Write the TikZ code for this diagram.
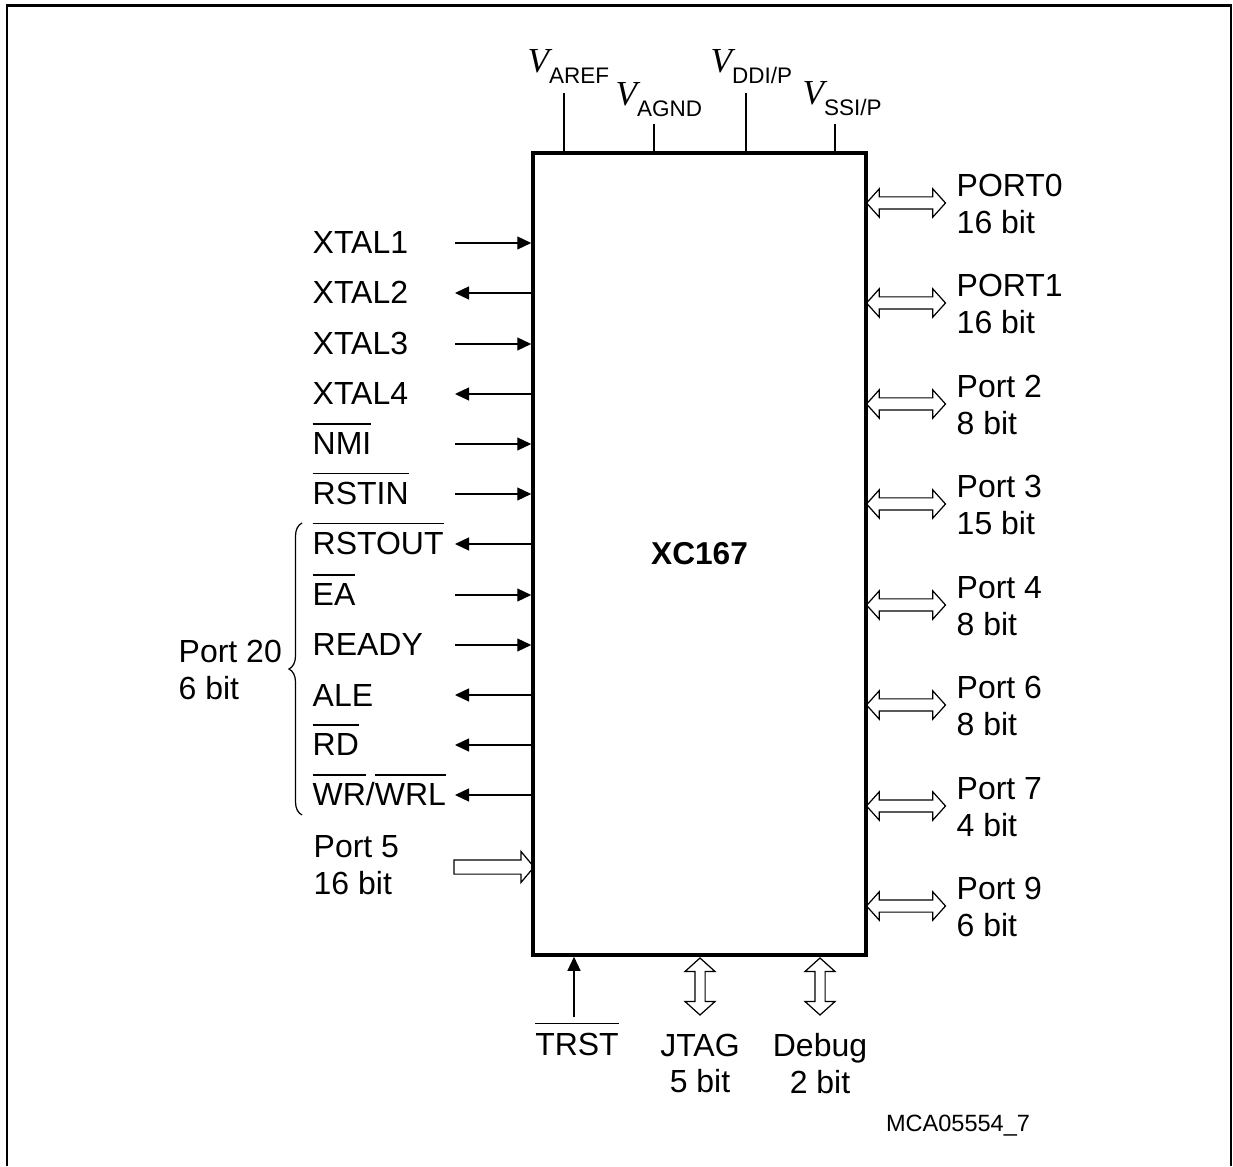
\documentclass[tikz,border=0pt]{standalone}
\usepackage{fontspec}
\setmainfont{Liberation Sans}
\newfontfamily\vfont{Liberation Serif}
\usepackage{tikz}
\usetikzlibrary{arrows.meta,shapes.arrows,decorations.pathreplacing}

\newcommand{\ovl}[1]{\leavevmode\vbox{\hrule height 0.35pt \kern 2.4pt \hbox{#1}}}
\newcommand{\supply}[1]{{\vfont\itshape\fontsize{10}{10}\selectfont V}\raisebox{-2.85pt}{\fontsize{6.4}{7}\selectfont #1}}

\tikzset{
  wire/.style={line width=0.35pt},
  wirein/.style={wire,-{Triangle[length=1.4mm,width=1.3mm]}},
  wireout/.style={wire,{Triangle[length=1.4mm,width=1.3mm]}-},
  sig/.style={inner sep=0pt, anchor=base west},
  portlbl/.style={inner sep=0pt, anchor=west, align=left},
  buslbl/.style={inner sep=0pt, anchor=north, align=center},
  bus/.style={draw, line width=0.35pt, double arrow, inner xsep=0pt, inner ysep=0.055cm,
    double arrow head extend=0.08cm, double arrow tip angle=96, minimum height=0.79cm},
}

\begin{document}
\begin{tikzpicture}[font=\fontsize{9.1}{10.4}\selectfont]
    \useasboundingbox (0,0) rectangle (12.33,11.66);
    \draw[line width=0.6pt] (0.07,0) -- (0.07,11.605) -- (12.31,11.605) -- (12.31,0); % frame
    %%%%%%%%%%%%%%%%%%%%%%%%%%%%%%%%%%
    \node[draw, line width=1pt, minimum width=3.33cm, minimum height=8.02cm, inner sep=0pt,
      font=\fontsize{9}{10}\selectfont\bfseries] (chip) at (6.995,6.12) {XC167};
    %%%%%%%%%%%%%%%%%%%%%%%%%%%%%%%%%%
    \node[sig] (aref) at (5.27,10.93) {\supply{AREF}};
    \node[sig] (agnd) at (6.15,10.60) {\supply{AGND}};
    \node[sig] (vddi) at (7.10,10.93) {\supply{DDI/P}};
    \node[sig] (vssi) at (8.02,10.61) {\supply{SSI/P}};
    \coordinate (aref-end) at (5.64,10.73);
    \coordinate (agnd-end) at (6.54,10.42);
    \coordinate (vddi-end) at (7.46,10.73);
    \coordinate (vssi-end) at (8.35,10.42);
    \draw[wire] (aref-end) -- (aref-end |- chip.north); % VAREF
    \draw[wire] (agnd-end) -- (agnd-end |- chip.north); % VAGND
    \draw[wire] (vddi-end) -- (vddi-end |- chip.north); % VDDI/P
    \draw[wire] (vssi-end) -- (vssi-end |- chip.north); % VSSI/P
    %%%%%%%%%%%%%%%%%%%%%%%%%%%%%%%%%%
    \node[sig] (xtal1) at (3.12,9.12) {XTAL1};
    \node[sig] (xtal2) at (3.12,8.62) {XTAL2};
    \node[sig] (xtal3) at (3.12,8.11) {XTAL3};
    \node[sig] (xtal4) at (3.12,7.61) {XTAL4};
    \node[sig] (nmi) at (3.12,7.11) {\ovl{NMI}};
    \node[sig] (rstin) at (3.12,6.61) {\ovl{RSTIN}};
    \node[sig] (rstout) at (3.12,6.11) {\ovl{RSTOUT}};
    \node[sig] (ea) at (3.12,5.60) {\ovl{EA}};
    \node[sig] (ready) at (3.12,5.10) {READY};
    \node[sig] (ale) at (3.12,4.60) {ALE};
    \node[sig] (rd) at (3.12,4.10) {\ovl{RD}};
    \node[sig] (wr) at (3.12,3.60) {\ovl{WR}/\ovl{WRL}};
    \coordinate (xtal1-end) at (4.55,9.23);
    \coordinate (xtal2-end) at (4.55,8.73);
    \coordinate (xtal3-end) at (4.55,8.22);
    \coordinate (xtal4-end) at (4.55,7.72);
    \coordinate (nmi-end) at (4.55,7.22);
    \coordinate (rstin-end) at (4.55,6.72);
    \coordinate (rstout-end) at (4.55,6.22);
    \coordinate (ea-end) at (4.55,5.71);
    \coordinate (ready-end) at (4.55,5.21);
    \coordinate (ale-end) at (4.55,4.71);
    \coordinate (rd-end) at (4.55,4.21);
    \coordinate (wr-end) at (4.55,3.71);
    \draw[wirein] (xtal1-end) -- (xtal1-end -| chip.west);
    \draw[wireout] (xtal2-end) -- (xtal2-end -| chip.west);
    \draw[wirein] (xtal3-end) -- (xtal3-end -| chip.west);
    \draw[wireout] (xtal4-end) -- (xtal4-end -| chip.west);
    \draw[wirein] (nmi-end) -- (nmi-end -| chip.west);
    \draw[wirein] (rstin-end) -- (rstin-end -| chip.west);
    \draw[wireout] (rstout-end) -- (rstout-end -| chip.west);
    \draw[wirein] (ea-end) -- (ea-end -| chip.west);
    \draw[wirein] (ready-end) -- (ready-end -| chip.west);
    \draw[wireout] (ale-end) -- (ale-end -| chip.west);
    \draw[wireout] (rd-end) -- (rd-end -| chip.west);
    \draw[wireout] (wr-end) -- (wr-end -| chip.west);
    %%%%%%%%%%%%%%%%%%%%%%%%%%%%%%%%%%
    \coordinate (brace-bot) at (3.02,3.51);
    \coordinate (brace-top) at (3.02,6.43);
    \draw[wire, decorate, decoration={brace, amplitude=0.13cm}] (brace-bot) -- (brace-top); % Port 20
    \node[portlbl] (port20) at (1.78,4.96) {Port 20\\6 bit};
    %%%%%%%%%%%%%%%%%%%%%%%%%%%%%%%%%%
    \node[portlbl] (port5) at (3.13,3.01) {Port 5\\16 bit};
    \node[draw, line width=0.35pt, single arrow, inner xsep=0pt, inner ysep=0.065cm,
      single arrow head extend=0.085cm, single arrow tip angle=100,
      minimum height=0.8cm] (port5-bus) at (4.91,2.99) {};
    %%%%%%%%%%%%%%%%%%%%%%%%%%%%%%%%%%
    \node[bus] (p0-bus) at (9.06,9.63) {};
    \node[bus] (p1-bus) at (9.06,8.63) {};
    \node[bus] (p2-bus) at (9.06,7.62) {};
    \node[bus] (p3-bus) at (9.06,6.62) {};
    \node[bus] (p4-bus) at (9.06,5.61) {};
    \node[bus] (p6-bus) at (9.06,4.61) {};
    \node[bus] (p7-bus) at (9.06,3.60) {};
    \node[bus] (p9-bus) at (9.06,2.60) {};
    \node[portlbl] (p0) at (9.56,9.62) {PORT0\\16 bit};
    \node[portlbl] (p1) at (9.56,8.62) {PORT1\\16 bit};
    \node[portlbl] (p2) at (9.56,7.61) {Port 2\\8 bit};
    \node[portlbl] (p3) at (9.56,6.61) {Port 3\\15 bit};
    \node[portlbl] (p4) at (9.56,5.60) {Port 4\\8 bit};
    \node[portlbl] (p6) at (9.56,4.60) {Port 6\\8 bit};
    \node[portlbl] (p7) at (9.56,3.59) {Port 7\\4 bit};
    \node[portlbl] (p9) at (9.56,2.59) {Port 9\\6 bit};
    %%%%%%%%%%%%%%%%%%%%%%%%%%%%%%%%%%
    \coordinate (trst-end) at (5.74,1.49);
    \draw[wirein] (trst-end) -- (trst-end |- chip.south); % TRST
    \node[inner sep=0pt, anchor=base] (trst) at (5.77,1.11) {\ovl{TRST}};
    \node[bus, rotate=90, minimum height=0.57cm, inner ysep=0.045cm, double arrow head extend=0.1cm]
      (jtag-bus) at (7.00,1.795) {};
    \node[bus, rotate=90, minimum height=0.57cm, inner ysep=0.045cm, double arrow head extend=0.1cm]
      (debug-bus) at (8.20,1.795) {};
    \node[buslbl] (jtag) at (7.00,1.33) {JTAG\\5 bit};
    \node[buslbl] (debug) at (8.20,1.33) {Debug\\2 bit};
    %%%%%%%%%%%%%%%%%%%%%%%%%%%%%%%%%%
    \node[font=\fontsize{6.7}{8}\selectfont, inner sep=0pt] (figid) at (9.58,0.40) {MCA05554\_7};
\end{tikzpicture}
\end{document}
